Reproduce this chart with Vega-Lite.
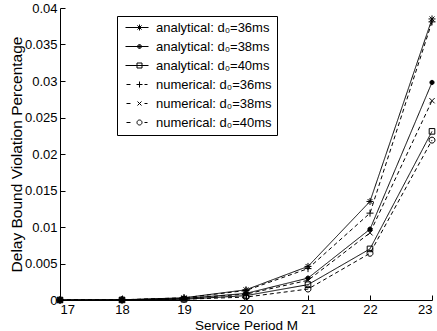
{
  "$schema": "https://vega.github.io/schema/vega-lite/v6.json",
  "width": 372,
  "height": 292,
  "autosize": "none",
  "padding": {"left": 60, "top": 8, "right": 5, "bottom": 31},
  "background": "white",
  "config": {
    "view": {"stroke": null},
    "axis": {
      "domainColor": "black", "tickColor": "black", "labelColor": "black", "titleColor": "black",
      "grid": false, "labelFont": "Liberation Sans", "titleFont": "Liberation Sans",
      "labelFontSize": 13, "titleFontSize": 13.5, "titleFontWeight": "normal",
      "tickSize": -5, "domainWidth": 1, "tickWidth": 1
    }
  },
  "data": {"values": [
    {"M": 17, "series": "analytical: d₀=36ms", "type": "analytical", "value": 0},
    {"M": 18, "series": "analytical: d₀=36ms", "type": "analytical", "value": 0.00003},
    {"M": 19, "series": "analytical: d₀=36ms", "type": "analytical", "value": 0.0003},
    {"M": 20, "series": "analytical: d₀=36ms", "type": "analytical", "value": 0.0014},
    {"M": 21, "series": "analytical: d₀=36ms", "type": "analytical", "value": 0.0046},
    {"M": 22, "series": "analytical: d₀=36ms", "type": "analytical", "value": 0.0135},
    {"M": 23, "series": "analytical: d₀=36ms", "type": "analytical", "value": 0.0385},
    {"M": 17, "series": "analytical: d₀=38ms", "type": "analytical", "value": 0},
    {"M": 18, "series": "analytical: d₀=38ms", "type": "analytical", "value": 0.00002},
    {"M": 19, "series": "analytical: d₀=38ms", "type": "analytical", "value": 0.0002},
    {"M": 20, "series": "analytical: d₀=38ms", "type": "analytical", "value": 0.0009},
    {"M": 21, "series": "analytical: d₀=38ms", "type": "analytical", "value": 0.0030},
    {"M": 22, "series": "analytical: d₀=38ms", "type": "analytical", "value": 0.0097},
    {"M": 23, "series": "analytical: d₀=38ms", "type": "analytical", "value": 0.0298},
    {"M": 17, "series": "analytical: d₀=40ms", "type": "analytical", "value": 0},
    {"M": 18, "series": "analytical: d₀=40ms", "type": "analytical", "value": 0.00001},
    {"M": 19, "series": "analytical: d₀=40ms", "type": "analytical", "value": 0.0001},
    {"M": 20, "series": "analytical: d₀=40ms", "type": "analytical", "value": 0.0006},
    {"M": 21, "series": "analytical: d₀=40ms", "type": "analytical", "value": 0.0021},
    {"M": 22, "series": "analytical: d₀=40ms", "type": "analytical", "value": 0.0070},
    {"M": 23, "series": "analytical: d₀=40ms", "type": "analytical", "value": 0.0231},
    {"M": 17, "series": "numerical: d₀=36ms", "type": "numerical", "value": 0},
    {"M": 18, "series": "numerical: d₀=36ms", "type": "numerical", "value": 0.00003},
    {"M": 19, "series": "numerical: d₀=36ms", "type": "numerical", "value": 0.0003},
    {"M": 20, "series": "numerical: d₀=36ms", "type": "numerical", "value": 0.0013},
    {"M": 21, "series": "numerical: d₀=36ms", "type": "numerical", "value": 0.0043},
    {"M": 22, "series": "numerical: d₀=36ms", "type": "numerical", "value": 0.0119},
    {"M": 23, "series": "numerical: d₀=36ms", "type": "numerical", "value": 0.0381},
    {"M": 17, "series": "numerical: d₀=38ms", "type": "numerical", "value": 0},
    {"M": 18, "series": "numerical: d₀=38ms", "type": "numerical", "value": 0.00002},
    {"M": 19, "series": "numerical: d₀=38ms", "type": "numerical", "value": 0.0002},
    {"M": 20, "series": "numerical: d₀=38ms", "type": "numerical", "value": 0.0008},
    {"M": 21, "series": "numerical: d₀=38ms", "type": "numerical", "value": 0.0027},
    {"M": 22, "series": "numerical: d₀=38ms", "type": "numerical", "value": 0.0092},
    {"M": 23, "series": "numerical: d₀=38ms", "type": "numerical", "value": 0.0273},
    {"M": 17, "series": "numerical: d₀=40ms", "type": "numerical", "value": 0},
    {"M": 18, "series": "numerical: d₀=40ms", "type": "numerical", "value": 0.00001},
    {"M": 19, "series": "numerical: d₀=40ms", "type": "numerical", "value": 0.0001},
    {"M": 20, "series": "numerical: d₀=40ms", "type": "numerical", "value": 0.0004},
    {"M": 21, "series": "numerical: d₀=40ms", "type": "numerical", "value": 0.0015},
    {"M": 22, "series": "numerical: d₀=40ms", "type": "numerical", "value": 0.0064},
    {"M": 23, "series": "numerical: d₀=40ms", "type": "numerical", "value": 0.0219}
  ]},
  "encoding": {
    "x": {"field": "M", "type": "quantitative",
      "scale": {"domain": [17, 23], "nice": false, "zero": false},
      "axis": {"values": [17, 18, 19, 20, 21, 22, 23], "title": "Service Period M", "labelPadding": 8, "titlePadding": 2}},
    "y": {"field": "value", "type": "quantitative",
      "scale": {"domain": [0, 0.04], "nice": false},
      "axis": {"values": [0, 0.005, 0.01, 0.015, 0.02, 0.025, 0.03, 0.035, 0.04], "format": "~g",
        "title": "Delay Bound Violation Percentage", "titleFontSize": 15.5, "labelPadding": 8, "titlePadding": 0}}
  },
  "resolve": {"scale": {"shape": "independent"}, "legend": {"shape": "independent"}},
  "layer": [
    {
      "mark": {"type": "line", "stroke": "black", "strokeWidth": 1},
      "encoding": {
        "detail": {"field": "series"},
        "strokeDash": {"field": "type", "scale": {"domain": ["analytical", "numerical"], "range": [[1, 0], [4, 3]]}, "legend": null}
      }
    },
    {
      "mark": {"type": "point", "filled": true, "stroke": "black", "strokeWidth": 1, "size": 49, "opacity": 1},
      "encoding": {
        "shape": {"field": "series",
          "scale": {"domain": ["analytical: d₀=36ms", "analytical: d₀=38ms", "analytical: d₀=40ms", "numerical: d₀=36ms", "numerical: d₀=38ms", "numerical: d₀=40ms"],
            "range": [
              "M-1,0L1,0M0,-1L0,1M-0.7,-0.7L0.7,0.7M-0.7,0.7L0.7,-0.7",
              "M0.6,0A0.6,0.6,0,1,1,-0.6,0A0.6,0.6,0,1,1,0.6,0Z",
              "M-0.8,-0.8L0.8,-0.8L0.8,0.8L-0.8,0.8Z",
              "M-1,0L1,0M0,-1L0,1",
              "M-0.75,-0.75L0.75,0.75M-0.75,0.75L0.75,-0.75",
              "M0.85,0A0.85,0.85,0,1,1,-0.85,0A0.85,0.85,0,1,1,0.85,0Z"
            ]},
          "legend": null
        },
        "fill": {"field": "series",
          "scale": {"domain": ["analytical: d₀=36ms", "analytical: d₀=38ms", "analytical: d₀=40ms", "numerical: d₀=36ms", "numerical: d₀=38ms", "numerical: d₀=40ms"],
            "range": ["transparent", "black", "transparent", "transparent", "transparent", "transparent"]},
          "legend": null}
      }
    },
    {
      "mark": {"type": "point", "filled": false, "stroke": "black", "strokeWidth": 1, "size": 100, "opacity": 0},
      "encoding": {
        "shape": {"field": "series",
          "scale": {"domain": ["analytical: d₀=36ms", "analytical: d₀=38ms", "analytical: d₀=40ms", "numerical: d₀=36ms", "numerical: d₀=38ms", "numerical: d₀=40ms"],
            "range": [
              "M-0.6,0L4,0M1.6,0L2.8,0M2.2,-0.6L2.2,0.6M1.78,-0.42L2.62,0.42M1.78,0.42L2.62,-0.42",
              "M-0.6,0L4,0M2.6,0A0.4,0.4,0,1,1,1.8,0A0.4,0.4,0,1,1,2.6,0M2.45,0A0.25,0.25,0,1,1,1.95,0A0.25,0.25,0,1,1,2.45,0M2.3,0A0.1,0.1,0,1,1,2.1,0A0.1,0.1,0,1,1,2.3,0",
              "M-0.6,0L4,0M1.7,-0.5L2.7,-0.5L2.7,0.5L1.7,0.5Z",
              "M-0.4,0L0.4,0M3.2,0L3.8,0M1.6,0L2.8,0M2.2,-0.6L2.2,0.6",
              "M-0.4,0L0.4,0M3.2,0L3.8,0M1.8,-0.4L2.6,0.4M1.8,0.4L2.6,-0.4",
              "M-0.4,0L0.4,0M3.2,0L3.8,0M2.7,0A0.5,0.5,0,1,1,1.7,0A0.5,0.5,0,1,1,2.7,0Z"
            ]},
          "legend": {
            "title": null, "orient": "none", "legendX": 57, "legendY": 8,
            "strokeColor": "black", "fillColor": "white", "padding": 5, "rowPadding": 5,
            "symbolSize": 100, "symbolOpacity": 1, "symbolStrokeColor": "black", "symbolFillColor": "transparent", "symbolStrokeWidth": 1,
            "labelOffset": 21, "labelFontSize": 13, "labelFont": "Liberation Sans", "labelColor": "black",
            "labelExpr": "datum.label + '\u00a0\u00a0\u00a0'"
          }
        }
      }
    }
  ]
}
